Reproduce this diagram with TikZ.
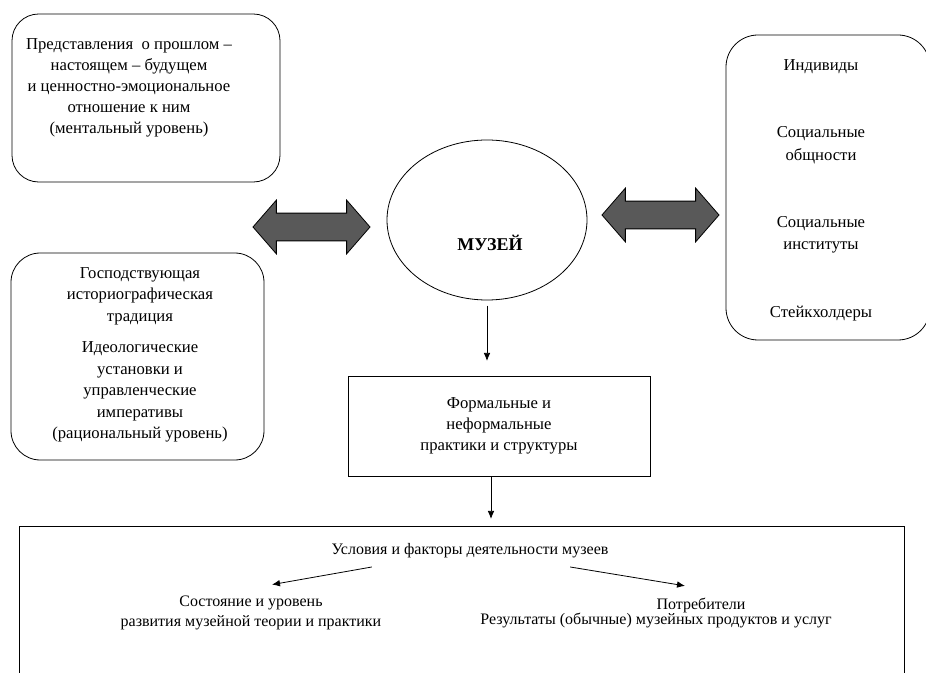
\documentclass[tikz,border=0pt]{standalone}
\usepackage{fontspec}
\setmainfont{Liberation Serif}
\usetikzlibrary{shapes.geometric,shapes.arrows,arrows.meta}
\definecolor{arrowgray}{HTML}{595959}

\begin{document}
\begin{tikzpicture}[
        x=0.75pt, y=-0.75pt,
        every node/.style={font=\fontsize{12.5}{15.75}\selectfont, align=center},
        roundbox/.style={draw, rounded corners=20pt, line width=0.6pt, inner sep=0pt},
        plainbox/.style={draw, line width=0.6pt, inner sep=0pt},
        dblarrow/.style={double arrow, draw, fill=arrowgray, line width=0.6pt,
                double arrow head extend=9.75pt, inner xsep=0pt, inner ysep=10.1pt,
                minimum height=87.75pt, double arrow tip angle=98},
        link/.style={-{Latex[length=6pt,width=5pt]}, line width=0.6pt}
    ]
    \clip (0,0) rectangle (926,673);

    \node[roundbox, minimum width=201pt, minimum height=126pt] (mental) at (146,98) {};
    \node (mentaltext) at (129,88) {Представления \ о прошлом –\\ настоящем – будущем\\ и ценностно-эмоциональное\\ отношение к ним\\ (ментальный уровень)};

    \node[roundbox, rounded corners=22pt, minimum width=189.75pt, minimum height=155.25pt] (rational) at (137.5,356.5) {};
    \node[font=\fontsize{12.5}{16.2}\selectfont] (rationaltext) at (140,355) {Господствующая\\ историографическая\\ традиция\\[7pt] Идеологические\\ установки и\\ управленческие\\ императивы\\ (рациональный уровень)};

    \node[roundbox, rounded corners=24pt, minimum width=153pt, minimum height=228.75pt] (actors) at (828,187.5) {};
    \node[font=\fontsize{12.5}{16.9}\selectfont] (actorstext) at (821,190) {Индивиды\\[33.5pt] Социальные\\ общности\\[33.5pt] Социальные\\ институты\\[33.5pt] Стейкхолдеры};

    \node[ellipse, draw, line width=0.6pt, minimum width=150pt, minimum height=120pt] (museum) at (487,220) {};
    \node[font=\fontsize{13.5}{16}\selectfont\bfseries] (museumtext) at (490,243) {МУЗЕЙ};

    \node[dblarrow] (leftarrow) at (311.5,227) {};
    \node[dblarrow] (rightarrow) at (660.5,215) {};

    \node[plainbox, minimum width=226.5pt, minimum height=75pt] (practices) at (499,426) {Формальные и\\ неформальные\\ практики и структуры};

    \node[plainbox, minimum width=663.75pt, minimum height=150pt] (factors) at (461.5,626) {};
    \node[font=\fontsize{12}{14}\selectfont] (factorstitle) at (470,551) {Условия и факторы деятельности музеев};
    \node[font=\fontsize{12}{14.5}\selectfont] (state) at (251,613) {Состояние и уровень\\ развития музейной теории и практики};
    \node[font=\fontsize{12}{14}\selectfont] (consumers) at (701,605) {Потребители};
    \node[font=\fontsize{12}{14}\selectfont] (results) at (656,621) {Результаты (обычные) музейных продуктов и услуг};

    \draw[link, shorten <=4pt, shorten >=11pt] (museum.south) -- (museum.south |- practices.north);
    \draw[link, shorten >=5pt] ([xshift=-6pt]practices.south) -- ([xshift=-6pt]practices.south |- factors.north);
    \draw[link] ([shift={(45,4)}]factorstitle.south west) -- ([shift={(21,-7)}]state.north);
    \draw[link] ([shift={(-43,4)}]factorstitle.south east) -- ([shift={(-16,-7)}]consumers.north);
\end{tikzpicture}
\end{document}
